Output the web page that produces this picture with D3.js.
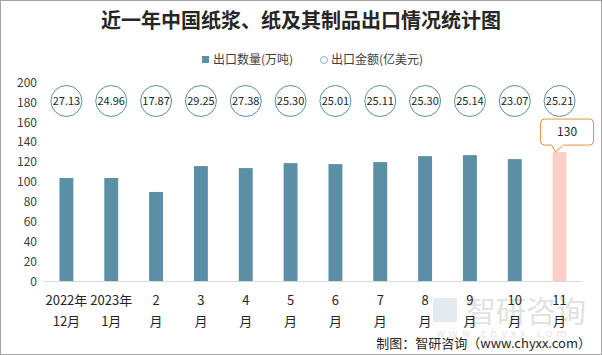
<!DOCTYPE html>
<html><head><meta charset="utf-8">
<script src="https://cdn.jsdelivr.net/npm/d3@7"></script>
<style>body{margin:0;background:#fff}svg{display:block}</style>
</head><body><svg id="c" width="602" height="355"></svg>
<script>
const categories = [["2022年","12月"],["2023年","1月"],["2","月"],["3","月"],["4","月"],["5","月"],["6","月"],["7","月"],["8","月"],["9","月"],["10","月"],["11","月"]];
const volume = [103.5, 103.5, 89.5, 115.5, 113.5, 118.5, 117.5, 119.5, 125.5, 126.5, 122.5, 129.6];
const amount = ["27.13","24.96","17.87","29.25","27.38","25.30","25.01","25.11","25.30","25.14","23.07","25.21"];
const yTicks = [0,20,40,60,80,100,120,140,160,180,200];
const title = "近一年中国纸浆、纸及其制品出口情况统计图";
const legendLabels = ["出口数量(万吨)","出口金额(亿美元)"];
const source = "制图：智研咨询（www.chyxx.com）";

const svg = d3.select("#c");
const font = "'Noto Sans CJK SC', 'Noto Sans', sans-serif";
svg.append("rect").attr("x",0.5).attr("y",0.5).attr("width",601).attr("height",354)
  .attr("fill","#fff").attr("stroke","#a6a6a6");

const x = d3.scaleBand().domain(d3.range(categories.length)).range([44, 582]).paddingInner(0.69).paddingOuter(0.345);
const y = d3.scaleLinear().domain([0,200]).range([281, 82]);

// watermark
const wm = svg.append("g");
wm.append("rect").attr("x",433).attr("y",298).attr("width",24).attr("height",24).attr("fill","#e3eaf0");
wm.append("text").attr("x",466).attr("y",322).attr("font-size",30).attr("font-family",font).attr("fill","#e2e2e2").text("智研咨询");
wm.append("text").attr("x",436).attr("y",337).attr("font-size",11).attr("letter-spacing",4).attr("font-family",font).attr("fill","#e6e6e6").text("www.chyxx.com");

// title
svg.append("text").attr("x",301).attr("y",28).attr("text-anchor","middle")
  .attr("font-family",font).attr("font-weight","bold").attr("font-size",20).attr("fill","#262626").text(title);

// legend
const lg = svg.append("g").attr("font-family",font).attr("font-size",12).attr("fill","#404040");
lg.append("rect").attr("x",202).attr("y",56).attr("width",7).attr("height",7).attr("fill","#5b8fa6");
lg.append("text").attr("x",213).attr("y",64).text(legendLabels[0]);
lg.append("circle").attr("cx",324).attr("cy",60).attr("r",3.5).attr("fill","#fff").attr("stroke","#8fb0c2");
lg.append("text").attr("x",331).attr("y",64).text(legendLabels[1]);

// y axis
const ya = svg.append("g").attr("transform","translate(37,0)")
  .call(d3.axisLeft(y).tickValues(yTicks).tickSize(0).tickPadding(0));
ya.select(".domain").remove();
ya.selectAll("text").attr("font-family",font).attr("font-size",12).attr("fill","#404040").attr("dy","0.35em");

// bars
svg.selectAll(".bar").data(volume).join("rect")
  .attr("x",(d,i)=>x(i)).attr("width",x.bandwidth())
  .attr("y",d=>y(d)).attr("height",d=>y(0)-y(d))
  .attr("fill",(d,i)=>i===volume.length-1?"#f8d0c6":"#5b8fa6");

// x axis line
svg.append("line").attr("x1",44).attr("x2",582).attr("y1",281.5).attr("y2",281.5).attr("stroke","#d9d9d9");

// x labels
const xl = svg.append("g").attr("font-family",font).attr("font-size",13).attr("fill","#262626").attr("text-anchor","middle");
categories.forEach((c,i)=>{
  const cx = x(i)+x.bandwidth()/2;
  xl.append("text").attr("x",cx).attr("y",305).text(c[0]);
  xl.append("text").attr("x",cx).attr("y",326).text(c[1]);
});

// amount circles
const cg = svg.append("g");
amount.forEach((a,i)=>{
  const cx = x(i)+x.bandwidth()/2;
  cg.append("circle").attr("cx",cx).attr("cy",101).attr("r",15.5).attr("fill","#fff").attr("stroke","#5b8fa6").attr("stroke-width",1);
  cg.append("text").attr("x",cx).attr("y",101).attr("dy","0.35em").attr("text-anchor","middle")
    .attr("font-family",font).attr("font-size",11).attr("fill","#262626").text(a);
});

// callout on last bar
const li = volume.length-1;
const lx = x(li)+x.bandwidth()/2, ly = y(volume[li]);
const bx0 = lx-19, bx1 = lx+34, by0 = ly-33, by1 = ly-7, r=4;
const p = `M${bx0+r},${by0} H${bx1-r} Q${bx1},${by0} ${bx1},${by0+r} V${by1-r} Q${bx1},${by1} ${bx1-r},${by1} H${lx+4} L${lx-4},${ly} L${lx-8},${by1} H${bx0+r} Q${bx0},${by1} ${bx0},${by1-r} V${by0+r} Q${bx0},${by0} ${bx0+r},${by0} Z`;
svg.append("path").attr("d",p).attr("fill","#fff").attr("stroke","#e8923a").attr("stroke-width",1);
svg.append("text").attr("x",(bx0+bx1)/2).attr("y",(by0+by1)/2).attr("dy","0.35em").attr("text-anchor","middle")
  .attr("font-family",font).attr("font-size",12).attr("fill","#262626").text(Math.round(volume[li]));

// source
svg.append("text").attr("x",591).attr("y",348).attr("text-anchor","end")
  .attr("font-family",font).attr("font-size",13).attr("fill","#262626").text(source);
</script></body></html>
